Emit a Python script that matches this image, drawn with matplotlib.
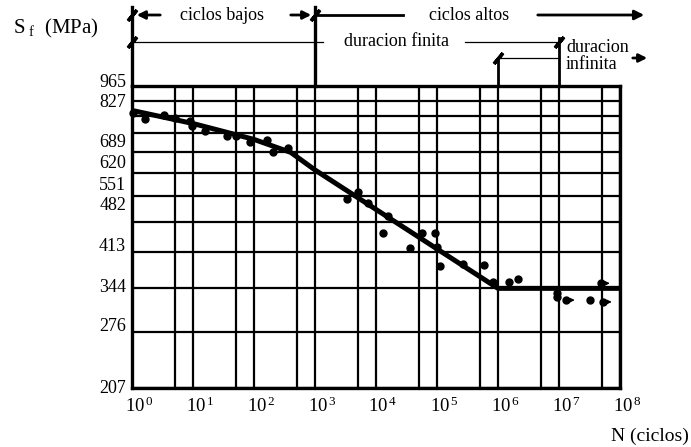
import numpy as np
import matplotlib
matplotlib.use("Agg")
import matplotlib.pyplot as plt
import matplotlib.transforms as mtransforms

plt.rcParams['font.family'] = ['Liberation Serif', 'DejaVu Serif']
plt.rcParams['mathtext.fontset'] = 'custom'
plt.rcParams['mathtext.rm'] = 'Liberation Serif'
plt.rcParams['mathtext.it'] = 'Liberation Serif:italic'

# ---------------- data ----------------
curve_N = [1, 10, 100, 400, 1000, 1e6, 1e8]
curve_S = [852, 797, 735, 688, 629, 344, 344]

pts_N = [1.04, 1.63, 3.35, 5.07, 8.93, 9.63, 15.7, 36, 50.7, 86, 163, 205, 361,
         3350, 5070, 7400, 15700, 13000, 36000, 56800, 92700, 1.0e5, 1.12e5,
         2.67e5, 5.89e5, 8.28e5, 1.51e6, 2.13e6, 9.27e6, 9.4e6, 1.30e7, 3.22e7,
         4.88e7, 5.25e7]
pts_S = [841, 816, 833, 820, 808, 787, 767, 748, 748, 726, 733, 689, 703,
         542, 562, 531, 497, 456, 422, 456, 456, 425, 386,
         389, 388, 355, 355, 361, 336, 329, 324, 324,
         353, 321]
runout_N = [1.30e7, 4.88e7, 5.25e7]
runout_S = [324, 353, 321]

x_major = [10.0 ** k for k in range(0, 9)]
x_major_labels = [r'10$^{\,%d}$' % k for k in range(0, 9)]
x_minor = [5 * 10.0 ** k for k in range(0, 8)]

y_grid = [207, 276, 344, 413, 482, 551, 620, 689, 758, 827, 896, 965]
y_labels = ['965', '827', '689', '620', '551', '482', '413', '344', '276', '207']
# vertical placement of the labels as drawn in the original (axes fraction)
y_label_frac = [1.01, 0.947, 0.814, 0.745, 0.672, 0.603, 0.470, 0.334, 0.202, -0.003]

# ---------------- figure ----------------
fig = plt.figure(figsize=(6.91, 4.47), dpi=100)
ax = fig.add_axes([132 / 691, 1 - 388 / 447, (620 - 132) / 691, (388 - 86) / 447])
ax.set_xscale('log')
ax.set_yscale('log')
ax.set_xlim(1, 1e8)
ax.set_ylim(207, 965)

ax.set_xticks(x_major)
ax.set_xticklabels(x_major_labels, fontsize=13.5)
ax.set_xticks(x_minor, minor=True)
ax.set_xticklabels([], minor=True)
ax.set_yticks(y_grid, minor=True)
ax.set_yticks([])
ax.yaxis.set_minor_formatter(matplotlib.ticker.NullFormatter())
ax.tick_params(axis='both', which='both', length=0)
ax.tick_params(axis='x', pad=6)
for lab in ax.get_xticklabels():
    lab.set_transform(lab.get_transform() + mtransforms.ScaledTranslation(5 / 72, 0, fig.dpi_scale_trans))

ax.grid(True, which='both', axis='x', color='black', lw=1.6)
ax.grid(True, which='minor', axis='y', color='black', lw=1.6)
for s in ax.spines.values():
    s.set_linewidth(2.4)

for lab, fr in zip(y_labels, y_label_frac):
    ax.text(-0.012, fr, lab, transform=ax.transAxes, ha='right', va='center', fontsize=13)

# curve and data
ax.plot(curve_N, curve_S, color='black', lw=3.6, solid_capstyle='butt', zorder=4)
ax.plot(pts_N, pts_S, 'o', color='black', ms=5, zorder=5, clip_on=False)
for n, s in zip(runout_N, runout_S):
    ax.annotate('', xy=(n * 1.55, s), xytext=(-9, 0), textcoords='offset points',
                arrowprops=dict(arrowstyle='-|>', color='black', lw=0.9,
                                mutation_scale=6), zorder=5)

# ---------------- top annotations ----------------
tr = mtransforms.blended_transform_factory(ax.transData, ax.transAxes)


def px(p):
    return 10 ** ((p - 132) / 61.0)


def fy(p):
    return (388 - p) / 302.0


yb = fy(15)
yf = fy(42)
yi = fy(58)
top = fy(7)

kw = dict(transform=tr, clip_on=False, color='black')
ax.plot([1, 1], [1, top], lw=2.4, **kw)
ax.plot([1e3, 1e3], [1, top], lw=2.4, **kw)
ax.plot([1e6, 1e6], [1, yi], lw=2.0, **kw)
ax.plot([1e7, 1e7], [1, fy(38)], lw=2.0, **kw)

for xx, yy in [(1, yb), (1, yf), (1e3, yb), (1e6, yi), (1e7, yf)]:
    ax.plot([xx], [yy], marker=(2, 2, -40), ms=10, mew=2.4, **kw)

akw = dict(xycoords=tr, textcoords=tr, annotation_clip=False)
# ciclos bajos
ax.annotate('', xy=(px(134), yb), xytext=(px(163), yb),
            arrowprops=dict(arrowstyle='-|>', color='black', lw=2.0, mutation_scale=12), **akw)
ax.annotate('', xy=(px(314), yb), xytext=(px(288), yb),
            arrowprops=dict(arrowstyle='-|>', color='black', lw=2.0, mutation_scale=12), **akw)
ax.text(px(222), yb, 'ciclos bajos', transform=tr, ha='center', va='center', fontsize=13)
# ciclos altos
ax.plot([1e3, px(403)], [yb, yb], lw=2.0, **kw)
ax.annotate('', xy=(px(647), yb), xytext=(px(535), yb),
            arrowprops=dict(arrowstyle='-|>', color='black', lw=2.0, mutation_scale=14), **akw)
ax.text(px(469), yb, 'ciclos altos', transform=tr, ha='center', va='center', fontsize=13)
# duracion finita
ax.plot([1, px(323)], [yf, yf], lw=0.9, **kw)
ax.plot([px(465), 1e7], [yf, yf], lw=0.9, **kw)
ax.text(px(396), yf, 'duracion finita', transform=tr, ha='center', va='center', fontsize=13)
# duracion infinita
ax.plot([1e6, 1e7], [yi, yi], lw=0.9, **kw)
ax.text(px(566), fy(56), 'duracion\ninfinita', transform=tr, ha='left', va='center',
        fontsize=13, linespacing=0.95)
ax.annotate('', xy=(px(650), yi), xytext=(px(630), yi),
            arrowprops=dict(arrowstyle='-|>', color='black', lw=2.0, mutation_scale=12), **akw)

# axis titles
fig.text(13 / 691, 1 - 28 / 447, r'S$_{\ \mathrm{f}}$  (MPa)', fontsize=15, ha='left', va='center')
fig.text(689 / 691, 1 - 436 / 447, 'N (ciclos)', fontsize=14, ha='right', va='center')

fig.savefig('out.png', dpi=100)
